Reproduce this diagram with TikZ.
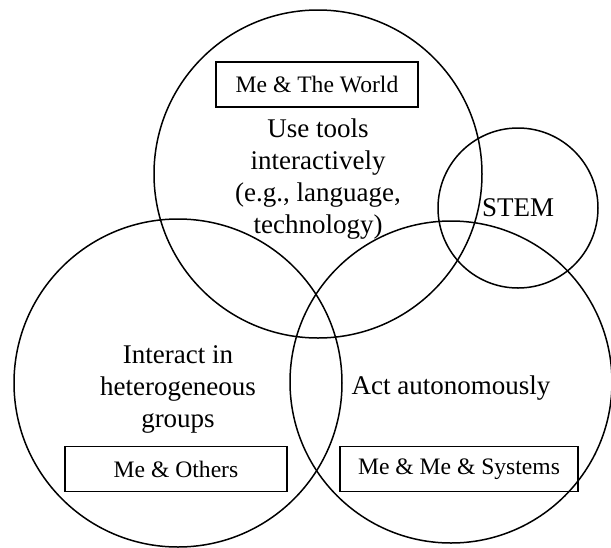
\documentclass[tikz,border=0pt]{standalone}
\usepackage{fontspec}
\setmainfont{Liberation Serif}

\begin{document}
\begin{tikzpicture}[x=0.5pt,y=-0.5pt,line width=0.75pt,
			font=\fontsize{13.5}{16}\selectfont]
			\tikzstyle{every node}=[align=center]
			\tikzstyle{sphere}=[draw,circle,inner sep=0pt]
			\tikzstyle{tagbox}=[draw,rectangle,minimum height=22.5pt,inner sep=2pt,
			font=\fontsize{11.8}{14}\selectfont]
			
			\useasboundingbox (0,0) rectangle (611,547);
			
			\node[sphere,minimum size=164pt] (tools)  at (318,174) {};
			\node[sphere,minimum size=164pt] (groups) at (178,383) {};
			\node[sphere,minimum size=161pt] (auto)   at (451,382) {};
			\node[sphere,minimum size=80pt]  (stem)   at (518,208) {STEM};
			
			\node (toolstext)  at ([yshift=-2.5pt]tools.center)  {Use tools\\interactively\\(e.g., language,\\technology)};
			\node (groupstext) at ([yshift=-3pt]groups.center) {Interact in\\heterogeneous\\groups};
			\node (autotext)   at ([yshift=-3pt]auto.center)   {Act autonomously};
			
			\node[tagbox,minimum width=101pt] (world)   at (317,84.5) {Me \& The World};
			\node[tagbox,minimum width=111pt] (others)  at (176,469)  {Me \& Others};
			\node[tagbox,minimum width=119pt] (systems) at (459,469)  {Me \& Me \& Systems};
			
			\end{tikzpicture}
\end{document}
